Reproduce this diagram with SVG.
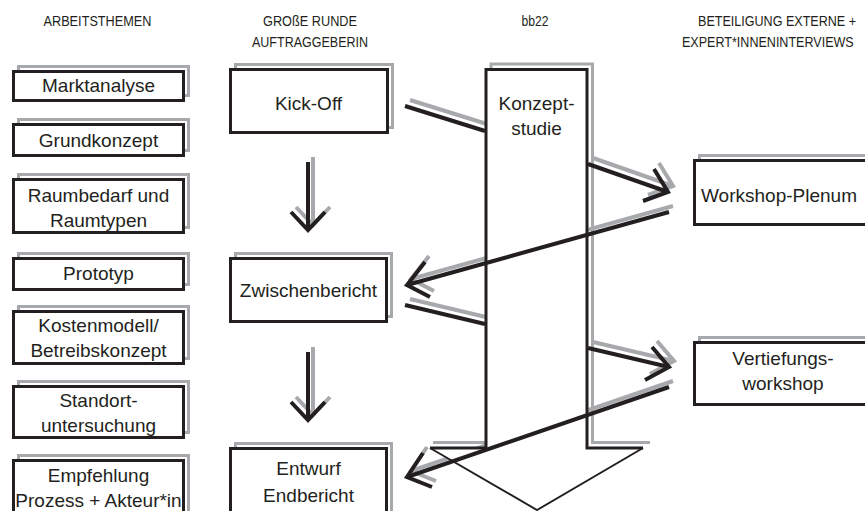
<svg xmlns="http://www.w3.org/2000/svg" width="865" height="511" viewBox="0 0 865 511">
  <defs>
    <style>
      .hdr { font-family: "Liberation Sans", Arial, sans-serif; font-size: 15.5px; fill: #231f20; text-anchor: middle; }
      .lbl { font-family: "Liberation Sans", Arial, sans-serif; font-size: 19px; fill: #231f20; text-anchor: middle; }
      .box { fill: #ffffff; stroke: #231f20; stroke-width: 3; }
      .shadow { fill: none; stroke: #a7a9ac; stroke-width: 3; }
      .ln { fill: none; stroke: #231f20; stroke-width: 4; stroke-linejoin: miter; }
      .lns { fill: none; stroke: #a7a9ac; stroke-width: 4; stroke-linejoin: miter; }
    </style>
  </defs>
  <rect width="865" height="511" fill="#ffffff"/>

  <!-- column headings (narrowed to a condensed look) -->
  <g id="headings">
    <text class="hdr" x="97.5" y="26" textLength="108" lengthAdjust="spacingAndGlyphs">ARBEITSTHEMEN</text>
    <text class="hdr" x="310" y="26" textLength="94" lengthAdjust="spacingAndGlyphs">GROßE RUNDE</text>
    <text class="hdr" x="310" y="47" textLength="116" lengthAdjust="spacingAndGlyphs">AUFTRAGGEBERIN</text>
    <text class="hdr" x="535" y="26" textLength="27" lengthAdjust="spacingAndGlyphs">bb22</text>
    <text class="hdr" transform="translate(777,26) scale(0.81,1)">BETEILIGUNG EXTERNE +</text>
    <text class="hdr" transform="translate(682,47) scale(0.81,1)" style="text-anchor:start">EXPERT*INNENINTERVIEWS</text>
  </g>

  <!-- grey offset copies of the connectors, kept under the white shapes -->
  <g id="connector-shadows">
    <polyline class="lns" points="410,100 490,125"/>
    <polyline class="lns" points="593,158 673,186"/>
    <polyline class="lns" points="659,163 673,186 648,195"/>
    <polyline class="lns" points="673,206 411,279"/>
    <polyline class="lns" points="429,256 411,279 434,291"/>
    <polyline class="lns" points="410,299 490,318"/>
    <polyline class="lns" points="593,342 674,361"/>
    <polyline class="lns" points="657,341 674,361 650,374"/>
    <polyline class="lns" points="673,381 411,471"/>
    <polyline class="lns" points="427,447 411,471 436,481"/>
    <polyline class="lns" points="313,157 313,224"/>
    <polyline class="lns" points="296,207 313,225 330,207"/>
    <polyline class="lns" points="313,347 313,414"/>
    <polyline class="lns" points="296,397 313,415 330,397"/>
  </g>

  <!-- work topics -->
  <g id="marktanalyse">
    <rect class="shadow" x="18.5" y="66.5" width="170" height="29"/>
    <rect class="box" x="13.5" y="71.5" width="170" height="29"/>
    <text class="lbl" x="98.5" y="92">Marktanalyse</text>
  </g>
  <g id="grundkonzept">
    <rect class="shadow" x="18.5" y="119.5" width="170" height="31"/>
    <rect class="box" x="13.5" y="124.5" width="170" height="31"/>
    <text class="lbl" x="98.5" y="147">Grundkonzept</text>
  </g>
  <g id="raumbedarf">
    <rect class="shadow" x="18.5" y="174.5" width="170" height="53"/>
    <rect class="box" x="13.5" y="179.5" width="170" height="53"/>
    <text class="lbl" x="98.5" y="202">Raumbedarf und</text>
    <text class="lbl" x="98.5" y="227">Raumtypen</text>
  </g>
  <g id="prototyp">
    <rect class="shadow" x="18.5" y="253.5" width="170" height="31"/>
    <rect class="box" x="13.5" y="258.5" width="170" height="31"/>
    <text class="lbl" x="98.5" y="280">Prototyp</text>
  </g>
  <g id="kostenmodell">
    <rect class="shadow" x="18.5" y="306.5" width="170" height="52"/>
    <rect class="box" x="13.5" y="311.5" width="170" height="52"/>
    <text class="lbl" x="98.5" y="332">Kostenmodell/</text>
    <text class="lbl" x="98.5" y="357">Betreibskonzept</text>
  </g>
  <g id="standort">
    <rect class="shadow" x="18.5" y="381.5" width="170" height="51"/>
    <rect class="box" x="13.5" y="386.5" width="170" height="51"/>
    <text class="lbl" x="98.5" y="407">Standort-</text>
    <text class="lbl" x="98.5" y="432">untersuchung</text>
  </g>
  <g id="empfehlung">
    <rect class="shadow" x="18.5" y="455.5" width="170" height="70"/>
    <rect class="box" x="13.5" y="460.5" width="170" height="70"/>
    <text class="lbl" x="98.5" y="482">Empfehlung</text>
    <text class="lbl" x="98.5" y="507">Prozess + Akteur*in</text>
  </g>

  <!-- client meetings -->
  <g id="kickoff">
    <rect class="shadow" x="235.5" y="64.5" width="157" height="63"/>
    <rect class="box" x="230.5" y="69.5" width="157" height="63"/>
    <text class="lbl" x="308.5" y="110">Kick-Off</text>
  </g>
  <g id="zwischenbericht">
    <rect class="shadow" x="235.5" y="253.5" width="156" height="63"/>
    <rect class="box" x="230.5" y="258.5" width="156" height="63"/>
    <text class="lbl" x="308.5" y="297">Zwischenbericht</text>
  </g>
  <g id="endbericht">
    <rect class="shadow" x="235.5" y="443.5" width="156" height="80"/>
    <rect class="box" x="230.5" y="448.5" width="156" height="80"/>
    <text class="lbl" x="308.5" y="475">Entwurf</text>
    <text class="lbl" x="308.5" y="502">Endbericht</text>
  </g>

  <!-- bb22 process arrow -->
  <g id="konzeptstudie">
    <path class="shadow" d="M433,442.5 H491 V64 H592.5 V442.5 H650"/>
    <polygon points="430,448 486,448 486,69.5 587,69.5 587,448 643,448 537,510" fill="#ffffff"/>
    <path d="M430,448 H486 V69.5 H587 V448 H643" fill="none" stroke="#231f20" stroke-width="3"/>
    <path d="M643,448 L537,510 L430,448" fill="none" stroke="#231f20" stroke-width="2"/>
    <text class="lbl" x="536.5" y="110">Konzept-</text>
    <text class="lbl" x="536.5" y="135">studie</text>
  </g>

  <!-- external participation -->
  <g id="workshop-plenum">
    <rect class="shadow" x="699.5" y="155.5" width="200" height="64"/>
    <rect class="box" x="694.5" y="160.5" width="200" height="64"/>
    <text class="lbl" x="779" y="202">Workshop-Plenum</text>
  </g>
  <g id="vertiefungsworkshop">
    <rect class="shadow" x="699.5" y="337.5" width="200" height="62"/>
    <rect class="box" x="694.5" y="342.5" width="200" height="62"/>
    <text class="lbl" x="783" y="365">Vertiefungs-</text>
    <text class="lbl" x="783" y="390">workshop</text>
  </g>

  <!-- connectors -->
  <g id="connectors">
    <polyline class="ln" points="405,106 485,131"/>
    <polyline class="ln" points="588,164 668,192"/>
    <polyline class="ln" points="654,169 668,192 643,201"/>
    <polyline class="ln" points="669,212 407,285"/>
    <polyline class="ln" points="425,262 407,285 430,297"/>
    <polyline class="ln" points="405,305 485,324"/>
    <polyline class="ln" points="588,348 669,367"/>
    <polyline class="ln" points="652,347 669,367 645,380"/>
    <polyline class="ln" points="669,387 407,477"/>
    <polyline class="ln" points="423,453 407,477 432,487"/>
    <polyline class="ln" points="308,162 308,229"/>
    <polyline class="ln" points="291,212 308,230 325,212"/>
    <polyline class="ln" points="308,352 308,419"/>
    <polyline class="ln" points="291,402 308,420 325,402"/>
  </g>
</svg>
